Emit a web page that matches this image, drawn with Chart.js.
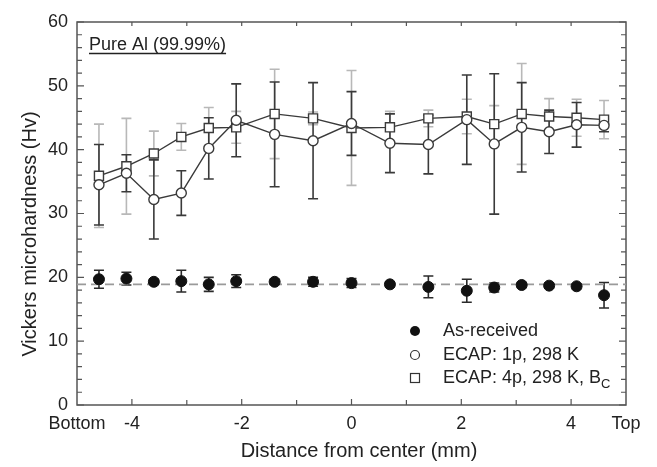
<!DOCTYPE html>
<html>
<head>
<meta charset="utf-8">
<title>Vickers microhardness - Pure Al (99.99%)</title>
<script src="https://cdn.jsdelivr.net/npm/chart.js@4.4.0/dist/chart.umd.min.js"></script>
<style>
	html,body{margin:0;padding:0;background:#fff;}
	#wrap{position:relative;width:657px;height:467px;}
</style>
</head>
<body>
<div id="wrap"><canvas id="chart" width="657" height="467"></canvas></div>
<script>
// measurement positions, mm from the billet center
const distances = [-4.6,-4.1,-3.6,-3.1,-2.6,-2.1,-1.4,-0.7,0,0.7,1.4,2.1,2.6,3.1,3.6,4.1,4.6];

// Hv values and +/- error
const asReceived    = [19.7,19.8,19.3,19.4,18.9,19.4,19.3,19.3,19.1,18.9,18.5,17.9,18.4,18.8,18.7,18.6,17.2];
const asReceivedErr = [1.4,1.0,0.4,1.7,1.1,1.0,0.4,0.7,0.7,0.4,1.7,1.8,0.7,0.4,0.4,0.4,2.0];
const ecap1p        = [34.5,36.3,32.2,33.2,40.2,44.6,42.4,41.4,44.1,41.0,40.8,44.7,40.9,43.5,42.8,43.9,43.8];
const ecap1pErr     = [6.3,2.9,6.2,3.5,4.8,5.7,8.2,9.1,5.0,4.6,4.6,7.0,11.0,7.0,3.4,3.5,1.0];
const ecap4p        = [35.9,37.4,39.4,42.0,43.4,43.5,45.6,44.9,43.4,43.5,44.9,45.2,44.0,45.6,45.2,45.0,44.7];
const ecap4pErr     = [8.1,7.5,3.5,2.1,3.2,2.5,7.0,1.0,9.0,2.5,1.3,2.7,2.9,7.9,2.8,2.9,3.0];

// mean of the as-received hardness (dashed line)
const avgLineX = [-5, 5];
const avgLineY = [18.9, 18.9];

// axis ticks
const xTickValues = [-5,-4,-2,0,2,4,5];
const xTickLabels = ['Bottom','-4','-2','0','2','4','Top'];
const xMinorTicks = [-3,-1,1,3];
const yTickValues = [0,10,20,30,40,50,60];
const yMinorStep = 2;

const seriesLabels = ['As-received','ECAP: 1p, 298 K','ECAP: 4p, 298 K, B'];

const TEXT = '#222';
const AXIS = '#555';
const FONT = "'Liberation Sans', Arial, Helvetica, sans-serif";

function toPoints(xs, ys){
	return xs.map((x,i) => ({x: x, y: ys[i]}));
}

// draws vertical error bars with caps, through the chart scales
const errorBarPlugin = {
	id: 'errorBars',
	beforeDatasetsDraw(chart){
		const ctx = chart.ctx;
		const xs = chart.scales.x, ys = chart.scales.y;
		const order = chart.data.datasets.map((d,i) => i).reverse();
		order.forEach(di => {
			const ds = chart.data.datasets[di];
			if(!ds.errors) return;
			ctx.save();
			ctx.strokeStyle = ds.errorColor;
			ctx.lineWidth = 1.6;
			const cap = 5;
			ds.data.forEach((pt,i) => {
				const e = ds.errors[i];
				if(!e) return;
				const px = xs.getPixelForValue(pt.x);
				const top = ys.getPixelForValue(pt.y + e);
				const bot = ys.getPixelForValue(pt.y - e);
				ctx.beginPath();
				ctx.moveTo(px, top); ctx.lineTo(px, bot);
				ctx.moveTo(px - cap, top); ctx.lineTo(px + cap, top);
				ctx.moveTo(px - cap, bot); ctx.lineTo(px + cap, bot);
				ctx.stroke();
			});
			ctx.restore();
		});
	}
};

// box frame with inward ticks on all four sides
const framePlugin = {
	id: 'frame',
	beforeDatasetsDraw(chart){
		const ctx = chart.ctx;
		const a = chart.chartArea;
		const xs = chart.scales.x, ys = chart.scales.y;
		ctx.save();
		ctx.strokeStyle = AXIS;
		ctx.lineWidth = 1.5;
		ctx.strokeRect(a.left, a.top, a.right - a.left, a.bottom - a.top);
		ctx.lineWidth = 1.2;
		ctx.beginPath();
		const xt = [];
		for(let v = -4; v <= 4; v++) xt.push(v);
		xt.forEach(v => {
			const px = xs.getPixelForValue(v);
			const len = xMinorTicks.indexOf(v) >= 0 ? 5 : 6;
			ctx.moveTo(px, a.bottom); ctx.lineTo(px, a.bottom - len);
			ctx.moveTo(px, a.top); ctx.lineTo(px, a.top + 4);
		});
		for(let v = 0; v <= 60; v += yMinorStep){
			const py = ys.getPixelForValue(v);
			const major = yTickValues.indexOf(v) >= 0;
			const len = major ? 7 : 5;
			ctx.moveTo(a.left, py); ctx.lineTo(a.left + len, py);
			ctx.moveTo(a.right, py); ctx.lineTo(a.right - len, py);
		}
		ctx.stroke();
		ctx.restore();
	}
};

// titles, sample label and legend
const textPlugin = {
	id: 'texts',
	afterDraw(chart){
		const ctx = chart.ctx;
		ctx.save();
		ctx.fillStyle = TEXT;
		ctx.strokeStyle = TEXT;

		// y title
		ctx.save();
		ctx.translate(30, 234);
		ctx.rotate(-Math.PI/2);
		ctx.font = '20px ' + FONT;
		ctx.textAlign = 'center';
		ctx.textBaseline = 'middle';
		ctx.fillText('Vickers microhardness (Hv)', 0, 0);
		ctx.restore();

		// x title
		ctx.font = '20px ' + FONT;
		ctx.textAlign = 'center';
		ctx.textBaseline = 'middle';
		ctx.fillText('Distance from center (mm)', 359, 451);

		// sample label, underlined
		ctx.font = '18px ' + FONT;
		ctx.textAlign = 'left';
		ctx.textBaseline = 'alphabetic';
		const label = 'Pure Al (99.99%)';
		ctx.fillText(label, 89, 50);
		const w = ctx.measureText(label).width;
		ctx.lineWidth = 1.3;
		ctx.beginPath(); ctx.moveTo(89, 53.5); ctx.lineTo(89 + w, 53.5); ctx.stroke();

		// legend
		const mx = 415, tx = 443;
		const rows = [331, 355, 378];
		ctx.lineWidth = 1.2;
		ctx.strokeStyle = '#333';
		ctx.fillStyle = '#111';
		ctx.beginPath(); ctx.arc(mx, rows[0], 5, 0, Math.PI*2); ctx.fill();
		ctx.fillStyle = '#fff';
		ctx.beginPath(); ctx.arc(mx, rows[1], 4.5, 0, Math.PI*2); ctx.fill(); ctx.stroke();
		ctx.fillRect(mx - 4.5, rows[2] - 4.5, 9, 9);
		ctx.strokeRect(mx - 4.5, rows[2] - 4.5, 9, 9);
		ctx.fillStyle = TEXT;
		ctx.font = '18px ' + FONT;
		ctx.textBaseline = 'middle';
		seriesLabels.forEach((s,i) => ctx.fillText(s, tx, rows[i]));
		const bw = ctx.measureText(seriesLabels[2]).width;
		ctx.font = '13px ' + FONT;
		ctx.fillText('C', tx + bw, rows[2] + 6);
		ctx.restore();
	}
};

const ctx = document.getElementById('chart');
const chart = new Chart(ctx.getContext('2d'), {
	type: 'scatter',
	data: {
		datasets: [
			{
				label: seriesLabels[0],
				data: toPoints(distances, asReceived),
				errors: asReceivedErr,
				errorColor: '#2a2a2a',
				showLine: false,
				pointStyle: 'circle',
				pointRadius: 5.5,
				backgroundColor: '#111',
				borderColor: '#111',
				borderWidth: 1
			},
			{
				label: seriesLabels[1],
				data: toPoints(distances, ecap1p),
				errors: ecap1pErr,
				errorColor: '#3a3a3a',
				showLine: true,
				pointStyle: 'circle',
				pointRadius: 5,
				backgroundColor: '#fff',
				borderColor: '#3a3a3a',
				borderWidth: 1.4
			},
			{
				label: seriesLabels[2],
				data: toPoints(distances, ecap4p),
				errors: ecap4pErr,
				errorColor: '#b8b8b8',
				showLine: true,
				pointStyle: 'rect',
				pointRadius: 6.4,
				backgroundColor: '#fff',
				borderColor: '#3a3a3a',
				borderWidth: 1.4
			},
			{
				label: 'mean',
				data: toPoints(avgLineX, avgLineY),
				showLine: true,
				pointRadius: 0,
				borderColor: '#9a9a9a',
				borderWidth: 1.6,
				borderDash: [9, 5]
			}
		]
	},
	options: {
		responsive: false,
		animation: false,
		layout: { padding: { top: 22, right: 31, left: 0, bottom: 0 } },
		elements: { line: { tension: 0 } },
		plugins: { legend: { display: false }, tooltip: { enabled: false } },
		scales: {
			x: {
				type: 'linear', min: -5, max: 5,
				afterBuildTicks: s => { s.ticks = xTickValues.map(v => ({value: v})); },
				afterFit: s => { s.height = 62; },
				ticks: {
					autoSkip: false, maxRotation: 0, padding: 8, color: TEXT,
					font: { family: FONT, size: 18 },
					callback: v => { const i = xTickValues.indexOf(v); return i >= 0 ? xTickLabels[i] : ''; }
				},
				grid: { display: false, drawTicks: false },
				border: { display: false }
			},
			y: {
				min: 0, max: 60,
				afterBuildTicks: s => { s.ticks = yTickValues.map(v => ({value: v})); },
				afterFit: s => { s.width = 77; },
				ticks: { padding: 9, color: TEXT, font: { family: FONT, size: 18 } },
				grid: { display: false, drawTicks: false },
				border: { display: false }
			}
		}
	},
	plugins: [framePlugin, errorBarPlugin, textPlugin]
});
</script>
</body>
</html>
